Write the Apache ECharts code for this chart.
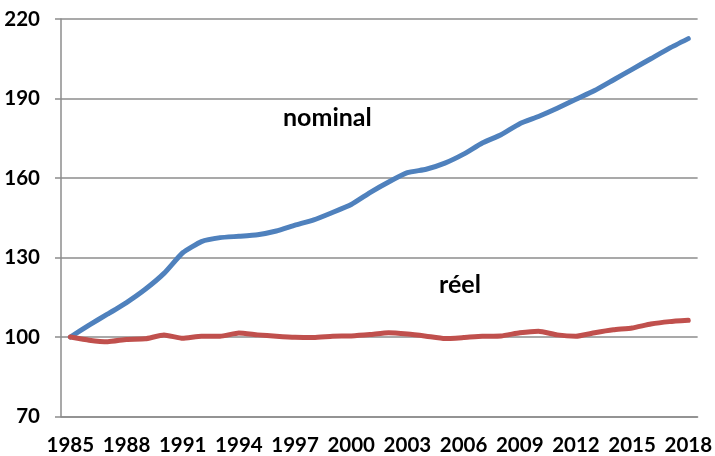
<!DOCTYPE html>
<html><head><meta charset="utf-8">
<script src="https://cdn.jsdelivr.net/npm/echarts@6/dist/echarts.min.js"></script>
<style>html,body{margin:0;padding:0;background:#fff}#c{width:715px;height:456px}</style>
</head><body><div id="c"></div>
<script>
const years = [];
for (let y = 1985; y <= 2018; y++) years.push(String(y));
const nominal = [100,104.5,108.7,113,118,124,131.8,136,137.5,138,138.6,140,142.2,144.2,147,150,154.5,158.5,162,163.3,165.6,169,173.2,176.3,180.5,183.2,186.3,189.7,193,197,201,205,209,212.6];
const reel = [100,98.8,98.2,99.1,99.3,100.8,99.5,100.3,100.3,101.5,100.8,100.3,99.9,99.8,100.3,100.4,100.9,101.6,101.1,100.3,99.4,99.8,100.3,100.4,101.6,102.2,100.8,100.3,101.6,102.7,103.4,104.9,105.8,106.3];
const yTicks = [70,100,130,160,190,220];
const labelNominal = 'nominal';
const labelReel = 'réel';

const font = 'Lato, "Open Sans", sans-serif';
const chart = echarts.init(document.getElementById('c'), null, {renderer:'canvas'});
chart.setOption({
  animation:false,
  grid:{left:61,right:14,top:19,bottom:39.5},
  xAxis:{
    type:'category', data:years, boundaryGap:true,
    axisLine:{lineStyle:{color:'#8c8c8c',width:1.5}},
    axisTick:{interval:0,length:6,lineStyle:{color:'#8c8c8c',width:1.5}},
    axisLabel:{interval:2,color:'#000',fontFamily:font,fontWeight:'bold',fontSize:20.5,margin:18}
  },
  yAxis:{
    type:'value', min:yTicks[0], max:yTicks[yTicks.length-1], interval:30,
    axisLine:{show:true,lineStyle:{color:'#8c8c8c',width:1.5}},
    axisTick:{show:true,length:6,lineStyle:{color:'#8c8c8c',width:1.5}},
    splitLine:{show:true,lineStyle:{color:'#8c8c8c',width:1.5}},
    axisLabel:{color:'#000',fontFamily:font,fontWeight:'bold',fontSize:20.5,margin:21}
  },
  series:[
    {type:'line',data:nominal,showSymbol:false,smooth:0.15,lineStyle:{color:'#4f81bd',width:5,cap:'round',join:'round'},itemStyle:{color:'#4f81bd'}},
    {type:'line',data:reel,showSymbol:false,smooth:0.15,lineStyle:{color:'#c0504d',width:5,cap:'round',join:'round'},itemStyle:{color:'#c0504d'}}
  ],
  graphic:[
    {type:'text',left:283,top:105,style:{text:labelNominal,fill:'#000',font:'bold 25px '+font}},
    {type:'text',left:439,top:272,style:{text:labelReel,fill:'#000',font:'bold 25px '+font}}
  ]
});
</script></body></html>
